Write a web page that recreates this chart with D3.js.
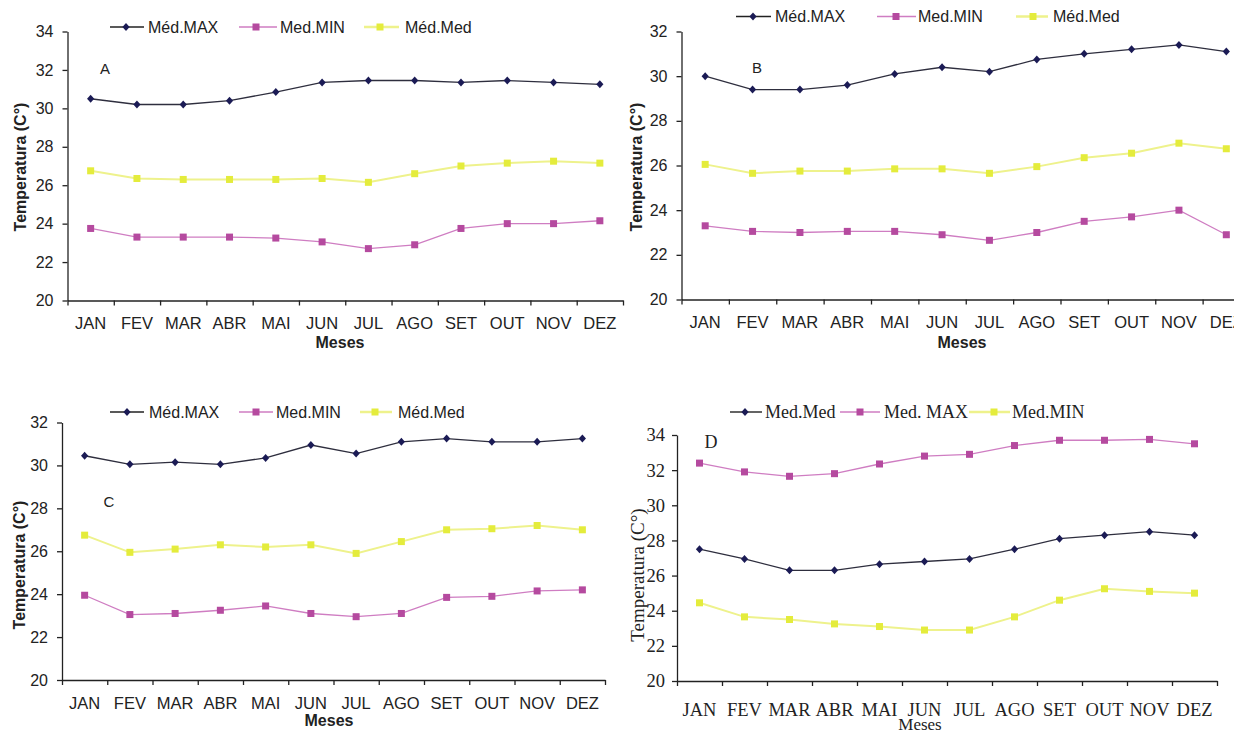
<!DOCTYPE html>
<html>
<head>
<meta charset="utf-8">
<script src="https://cdn.jsdelivr.net/npm/d3@7"></script>
<style>
  body { margin: 0; background: #fff; }
  svg { display: block; }
</style>
</head>
<body>
<svg id="chart" width="1234" height="733"></svg>
<script>
const months = ["JAN", "FEV", "MAR", "ABR", "MAI", "JUN", "JUL", "AGO", "SET", "OUT", "NOV", "DEZ"];

// panel A
const aMax = [30.5, 30.2, 30.2, 30.4, 30.85, 31.35, 31.45, 31.45, 31.35, 31.45, 31.35, 31.25];
const aMin = [23.75, 23.3, 23.3, 23.3, 23.25, 23.05, 22.7, 22.9, 23.75, 24.0, 24.0, 24.15];
const aMed = [26.75, 26.35, 26.3, 26.3, 26.3, 26.35, 26.15, 26.6, 27.0, 27.15, 27.25, 27.15];
// panel B
const bMax = [30.0, 29.4, 29.4, 29.6, 30.1, 30.4, 30.2, 30.75, 31.0, 31.2, 31.4, 31.1];
const bMin = [23.3, 23.05, 23.0, 23.05, 23.05, 22.9, 22.65, 23.0, 23.5, 23.7, 24.0, 22.9];
const bMed = [26.05, 25.65, 25.75, 25.75, 25.85, 25.85, 25.65, 25.95, 26.35, 26.55, 27.0, 26.75];
// panel C
const cMax = [30.45, 30.05, 30.15, 30.05, 30.35, 30.95, 30.55, 31.1, 31.25, 31.1, 31.1, 31.25];
const cMin = [23.95, 23.05, 23.1, 23.25, 23.45, 23.1, 22.95, 23.1, 23.85, 23.9, 24.15, 24.2];
const cMed = [26.75, 25.95, 26.1, 26.3, 26.2, 26.3, 25.9, 26.45, 27.0, 27.05, 27.2, 27.0];
// panel D
const dMed = [27.5, 26.95, 26.3, 26.3, 26.65, 26.8, 26.95, 27.5, 28.1, 28.3, 28.5, 28.3];
const dMax = [32.4, 31.9, 31.65, 31.8, 32.35, 32.8, 32.9, 33.4, 33.7, 33.7, 33.75, 33.5];
const dMin = [24.45, 23.65, 23.5, 23.25, 23.1, 22.9, 22.9, 23.65, 24.6, 25.25, 25.1, 25.0];

const navy = {line: "#2e2e3e", mark: "#1b1b55", shape: "diamond"};
const pink = {line: "#cf7dc2", mark: "#b54a9f", shape: "square"};
const yellow = {line: "#eef28c", mark: "#e4ec3c", shape: "square"};

const sans = "'Liberation Sans', Arial, sans-serif";
const serif = "'Liberation Serif', 'Times New Roman', serif";

class Panel {

  constructor(svg, cfg) {
    this.svg = svg;
    this.cfg = cfg;
    this.g = svg.append("g");

    this.x = d3.scaleBand().domain(months).range([cfg.left, cfg.right]);
    this.xt = d3.scaleLinear().domain([0, 12]).range([cfg.left, cfg.right]);
    this.y = d3.scaleLinear().domain([20, cfg.yMax]).range([cfg.bottom, cfg.top]);

    this.drawAxes();
    this.drawSeries();
    this.drawLegend();
    this.drawTexts();
  }

  marker(sel, s, cx, cy) {
    if (s.shape === "diamond") {
      sel.append("path")
        .attr("d", `M${cx} ${cy - 4} L${cx + 3.6} ${cy} L${cx} ${cy + 4} L${cx - 3.6} ${cy} Z`)
        .attr("fill", s.mark);
    } else {
      sel.append("rect")
        .attr("x", cx - 3.5).attr("y", cy - 3.5)
        .attr("width", 7).attr("height", 7)
        .attr("fill", s.mark);
    }
  }

  drawAxes() {
    const cfg = this.cfg;
    const yAxis = d3.axisLeft(this.y)
      .tickValues(d3.range(20, cfg.yMax + 1, 2))
      .tickSize(5).tickSizeOuter(0).tickPadding(cfg.yPad);

    this.g.append("g")
      .attr("transform", `translate(${cfg.left},0)`)
      .call(yAxis)
      .call(g => g.selectAll("text").style("font", `${cfg.tickFont}px ${cfg.font}`).attr("fill", "#222"))
      .call(g => g.selectAll("line, path").attr("stroke", "#222").attr("stroke-width", 1.3));

    // tick marks sit on the month boundaries
    const tickAxis = d3.axisBottom(this.xt)
      .tickValues(d3.range(13)).tickFormat("")
      .tickSize(5).tickSizeOuter(0);

    this.g.append("g")
      .attr("transform", `translate(0,${cfg.bottom})`)
      .call(tickAxis)
      .call(g => g.selectAll("line, path").attr("stroke", "#222").attr("stroke-width", 1.3));

    const labelAxis = d3.axisBottom(this.x).tickSize(0).tickPadding(cfg.xPad);
    this.g.append("g")
      .attr("transform", `translate(0,${cfg.bottom})`)
      .call(labelAxis)
      .call(g => g.select(".domain").remove())
      .call(g => g.selectAll("text").style("font", `${cfg.xFont}px ${cfg.font}`).attr("fill", "#222"));
  }

  drawSeries() {
    const x = this.x, y = this.y;
    const line = d3.line()
      .x((d, i) => x(months[i]) + x.bandwidth() / 2)
      .y(d => y(d));

    this.cfg.series.forEach(s => {
      this.g.append("path")
        .datum(s.values)
        .attr("fill", "none")
        .attr("stroke", s.style.line)
        .attr("stroke-width", s.style === yellow ? 2 : 1.3)
        .attr("d", line);

      const marks = this.g.append("g");
      s.values.forEach((v, i) => {
        this.marker(marks, s.style, x(months[i]) + x.bandwidth() / 2, y(v));
      });
    });
  }

  drawLegend() {
    const cfg = this.cfg;
    cfg.series.forEach((s, i) => {
      const p = cfg.legend[i];
      const lg = this.g.append("g");
      lg.append("line")
        .attr("x1", p[0]).attr("x2", p[1])
        .attr("y1", cfg.legendY).attr("y2", cfg.legendY)
        .attr("stroke", s.style === navy ? "#222" : s.style.line)
        .attr("stroke-width", s.style === yellow ? 2.5 : 1.4);
      this.marker(lg, s.style, p[2], cfg.legendY);
      lg.append("text")
        .attr("x", p[3]).attr("y", cfg.legendY)
        .attr("dominant-baseline", "central")
        .style("font", `${cfg.legendFont}px ${cfg.font}`)
        .attr("fill", "#222")
        .text(s.name);
    });
  }

  drawTexts() {
    const cfg = this.cfg;
    this.g.append("text")
      .attr("x", cfg.letter[0]).attr("y", cfg.letter[1])
      .attr("text-anchor", "middle").attr("dominant-baseline", "central")
      .style("font", `${cfg.letterFont}px ${cfg.font}`)
      .attr("fill", "#222")
      .text(cfg.name);

    this.g.append("text")
      .attr("transform", `translate(${cfg.yTitle[0]},${cfg.yTitle[1]}) rotate(-90)`)
      .attr("text-anchor", "middle").attr("dominant-baseline", "central")
      .style("font", `${cfg.titleWeight} ${cfg.titleFont}px ${cfg.font}`)
      .attr("fill", "#222")
      .text("Temperatura (C°)");

    this.g.append("text")
      .attr("x", cfg.xTitle[0]).attr("y", cfg.xTitle[1])
      .attr("text-anchor", "middle").attr("dominant-baseline", "central")
      .style("font", `${cfg.titleWeight} ${cfg.xTitleFont}px ${cfg.font}`)
      .attr("fill", "#222")
      .text("Meses");
  }
}

const svg = d3.select("#chart");

const sansBase = {font: sans, tickFont: 16, xFont: 16.5, legendFont: 16, letterFont: 15,
  titleFont: 16, xTitleFont: 16, titleWeight: "bold", yPad: 9, xPad: 17};

new Panel(svg, Object.assign({}, sansBase, {
  name: "A", left: 67.5, right: 623, top: 31.5, bottom: 300.5, yMax: 34,
  series: [
    {name: "Méd.MAX", values: aMax, style: navy},
    {name: "Med.MIN", values: aMin, style: pink},
    {name: "Méd.Med", values: aMed, style: yellow}
  ],
  legendY: 27,
  legend: [[110, 144, 126, 148], [239, 277, 256, 280], [364, 399, 380, 405]],
  letter: [105, 68], yTitle: [20, 167], xTitle: [340, 342]
}));

new Panel(svg, Object.assign({}, sansBase, {
  name: "B", left: 681.5, right: 1250, top: 31.5, bottom: 299.5, yMax: 32,
  series: [
    {name: "Méd.MAX", values: bMax, style: navy},
    {name: "Med.MIN", values: bMin, style: pink},
    {name: "Méd.Med", values: bMed, style: yellow}
  ],
  legendY: 16.5,
  legend: [[736, 771, 753, 775], [877, 916, 896, 918], [1016, 1048, 1033, 1053]],
  letter: [757, 67], yTitle: [636, 167], xTitle: [962, 342]
}));

new Panel(svg, Object.assign({}, sansBase, {
  name: "C", left: 62, right: 605, top: 422.5, bottom: 680, yMax: 32,
  series: [
    {name: "Méd.MAX", values: cMax, style: navy},
    {name: "Med.MIN", values: cMin, style: pink},
    {name: "Méd.Med", values: cMed, style: yellow}
  ],
  legendY: 412,
  legend: [[110, 144, 127, 149], [239, 273, 256, 276], [360, 392, 375, 398]],
  letter: [109, 501], yTitle: [19, 565], xTitle: [329, 720]
}));

new Panel(svg, {
  font: serif, tickFont: 18.5, xFont: 18.5, legendFont: 18, letterFont: 18,
  titleFont: 19, xTitleFont: 17, titleWeight: "normal", yPad: 7, xPad: 22,
  name: "D", left: 677, right: 1217, top: 435, bottom: 681, yMax: 34,
  series: [
    {name: "Med.Med", values: dMed, style: navy},
    {name: "Med. MAX", values: dMax, style: pink},
    {name: "Med.MIN", values: dMin, style: yellow}
  ],
  legendY: 412,
  legend: [[730, 762, 745, 765], [840, 880, 860, 884], [969, 1010, 994, 1012]],
  letter: [711, 442], yTitle: [637, 575], xTitle: [920, 724]
});
</script>
</body>
</html>
